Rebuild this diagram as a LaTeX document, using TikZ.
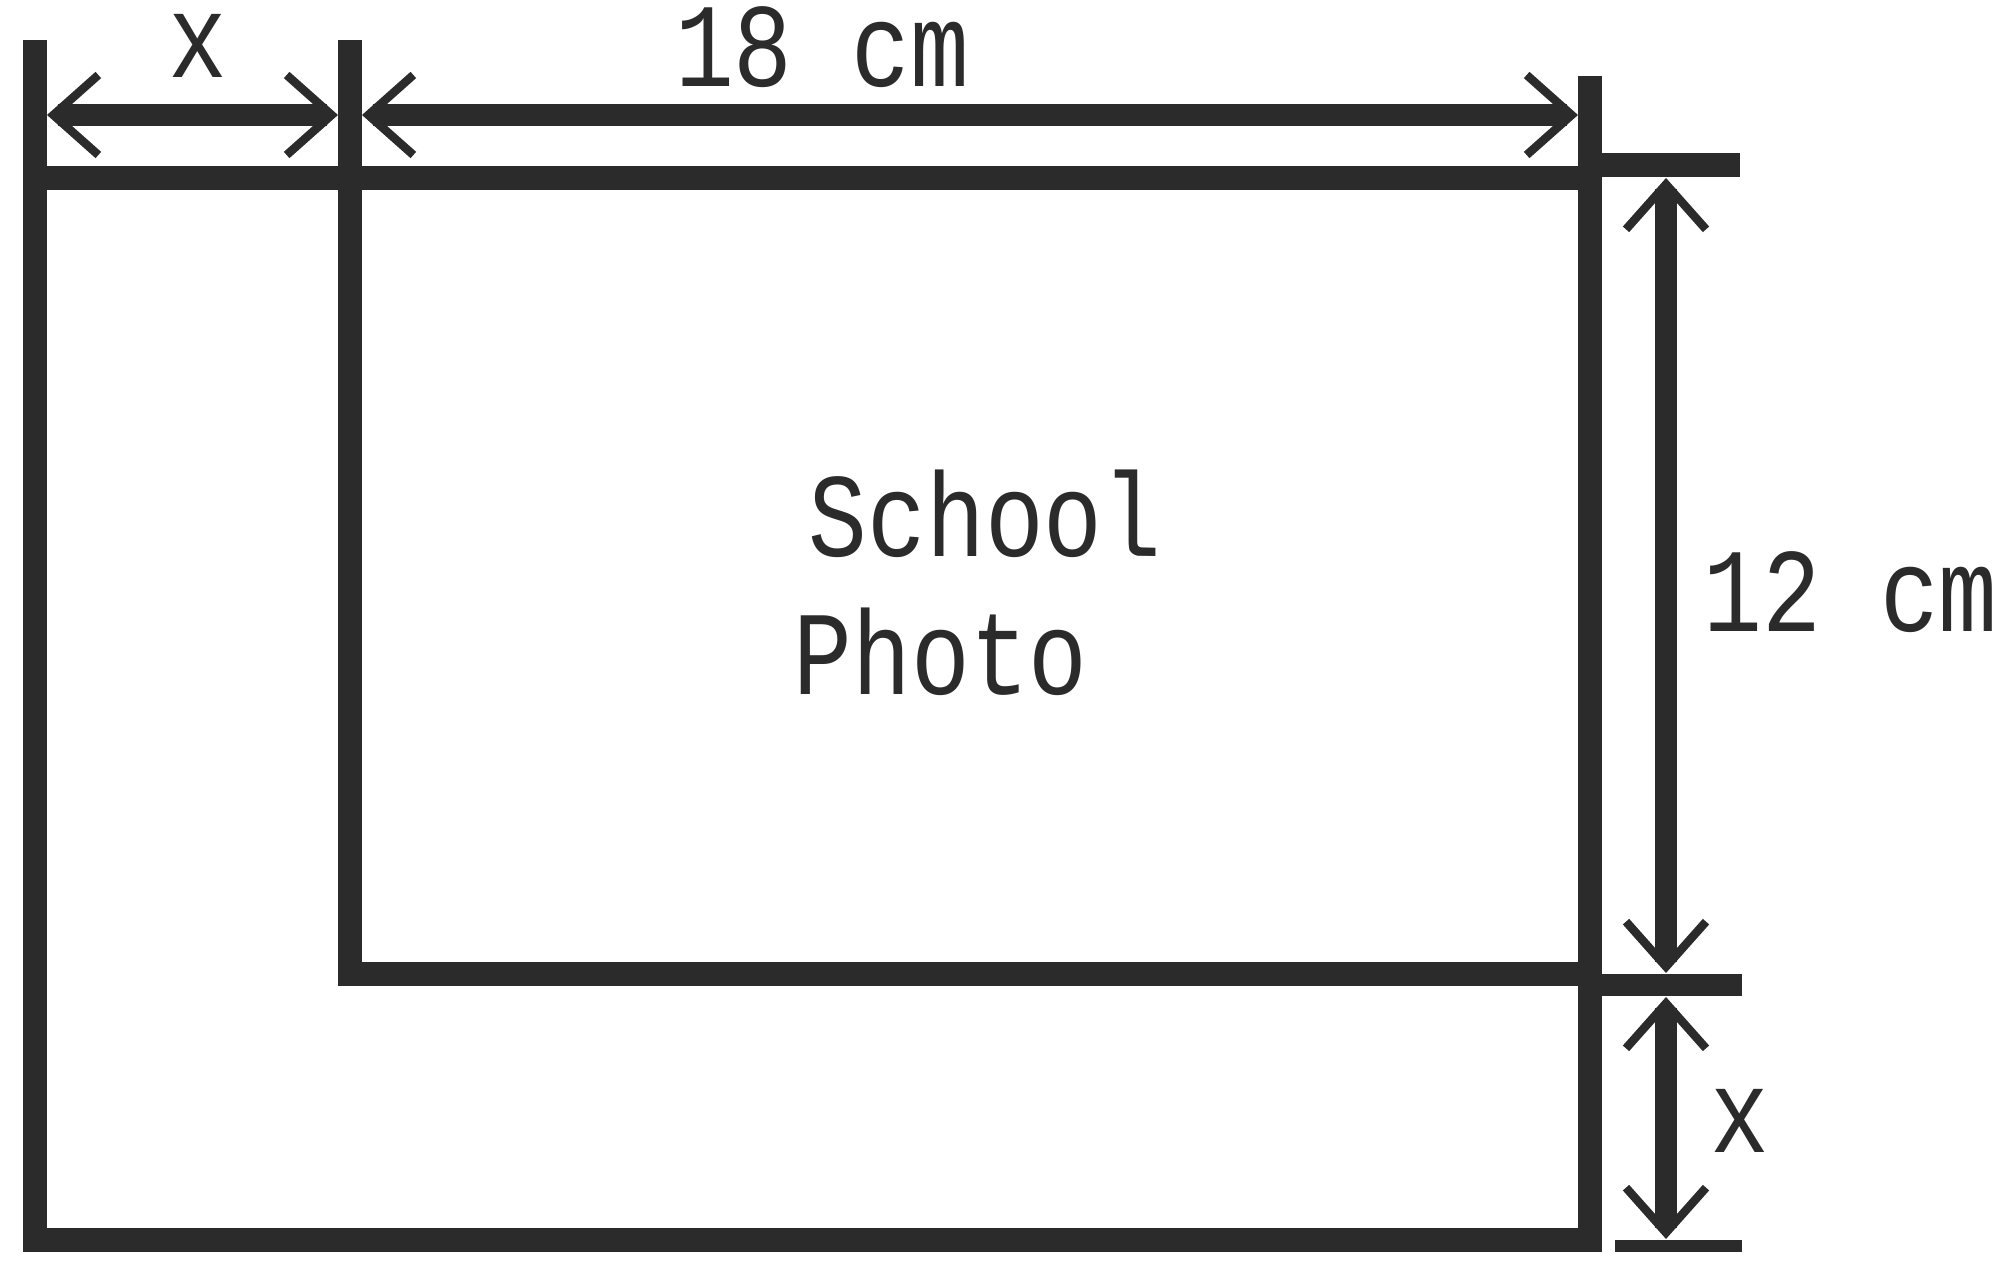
\documentclass[tikz,border=0pt]{standalone}
\usepackage{fontspec}
\usetikzlibrary{arrows.meta}
\newfontfamily\photofont[FakeStretch=0.82]{Liberation Mono}
\definecolor{ink}{HTML}{2B2B2B}
\tikzset{
  frame/.style={draw=ink, line width=6.8pt},
  tick/.style={draw=ink, line width=7pt},
  dim/.style={draw=ink, line width=6pt, >={Straight Barb[length=0.45cm,width=0.8cm,line width=2.4pt]}, <->},
  lbl/.style={text=ink, inner sep=0pt, font=\photofont\fontsize{34}{34}\selectfont}
}
\begin{document}
\begin{tikzpicture}
\useasboundingbox (0,0) rectangle (20,12.64);

\coordinate (tl) at (0.35,10.86);
\coordinate (br) at (15.90,0.24);
\coordinate (tr) at (15.90,10.86);
\coordinate (tltop) at (0.35,12.24);
\coordinate (ptop) at (3.50,12.24);
\coordinate (pbot) at (3.50,2.90);
\coordinate (pcorner) at (15.90,2.90);
\coordinate (trtop) at (15.90,11.88);

\draw[frame] (tl) rectangle (br);
\draw[frame] (tl) -- (tltop);
\draw[frame] (tr) -- (trtop);
\draw[frame] (ptop) -- (pbot) -- (pcorner);

% ticks on the right
\coordinate (t1a) at (16.02,10.99);
\coordinate (t1b) at (17.40,10.99);
\coordinate (t2a) at (16.02,2.79);
\coordinate (t2b) at (17.42,2.79);
\coordinate (t3a) at (16.15,0.18);
\coordinate (t3b) at (17.42,0.18);
\draw[tick] (t1a) -- (t1b);
\draw[tick, line width=6.5pt] (t2a) -- (t2b);
\draw[tick, line width=3.4pt] (t3a) -- (t3b);

% dimensions
\coordinate (d1a) at (0.47,11.49);
\coordinate (d1b) at (3.38,11.49);
\coordinate (d2a) at (3.62,11.49);
\coordinate (d2b) at (15.78,11.49);
\coordinate (d3a) at (16.66,10.86);
\coordinate (d3b) at (16.66,2.91);
\coordinate (d4a) at (16.66,2.67);
\coordinate (d4b) at (16.66,0.25);
\draw[dim] (d1a) -- (d1b);
\draw[dim] (d2a) -- (d2b);
\draw[dim] (d3a) -- (d3b);
\draw[dim] (d4a) -- (d4b);

\node[lbl, anchor=base] (xtop) at (1.98,11.86) {x};
\node[lbl, anchor=base] (len) at (8.22,11.77) {18 cm};
\node[lbl, anchor=base west] (wid) at (17.03,6.32) {12 cm};
\node[lbl, anchor=base] (xright) at (17.40,1.11) {x};
\node[lbl, anchor=base west] (school) at (8.08,7.07) {School};
\node[lbl, anchor=base west] (photo) at (7.93,5.69) {Photo};
\end{tikzpicture}
\end{document}
